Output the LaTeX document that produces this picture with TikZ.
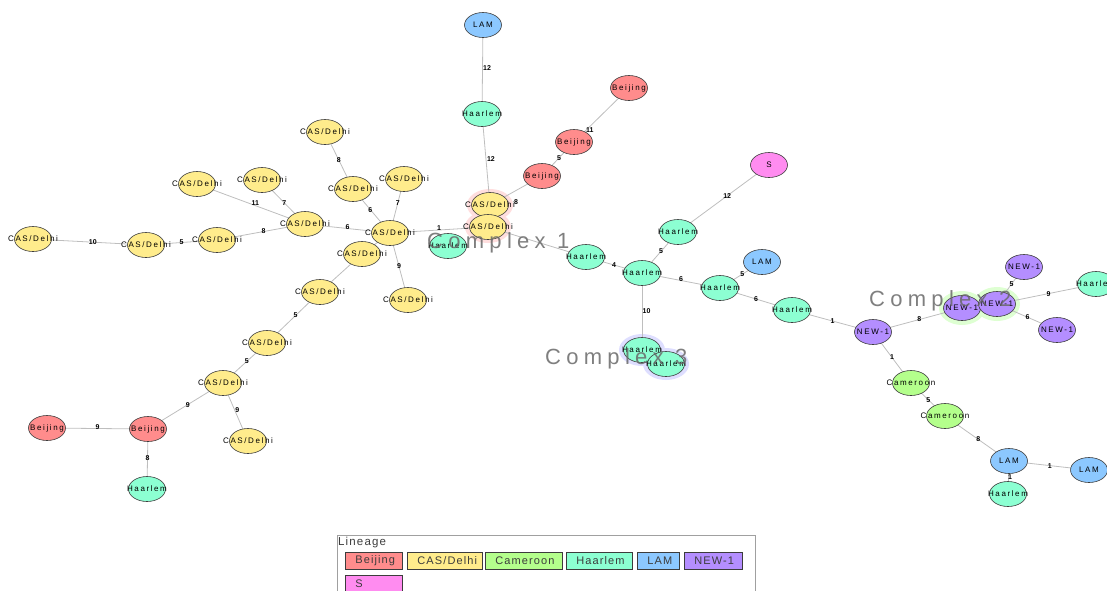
\documentclass[tikz,border=0pt]{standalone}
\usepackage{fontspec}
\setmainfont{Liberation Sans}
\newfontfamily\nfont[LetterSpace=20]{Liberation Sans}
\newfontfamily\cfont[LetterSpace=24]{Liberation Sans}
\newfontfamily\lfont[LetterSpace=10]{Liberation Sans}
\usetikzlibrary{shapes.geometric}
\pgfdeclarelayer{halo}
\pgfdeclarelayer{edges}
\pgfdeclarelayer{top}
\pgfsetlayers{halo,edges,main,top}
\definecolor{cBei}{RGB}{255,140,140}
\definecolor{cCas}{RGB}{255,236,140}
\definecolor{cCam}{RGB}{180,255,140}
\definecolor{cHaa}{RGB}{140,255,210}
\definecolor{cLam}{RGB}{140,200,255}
\definecolor{cNew}{RGB}{180,142,255}
\definecolor{cS}{RGB}{255,140,240}
\definecolor{nborder}{RGB}{60,60,60}
\definecolor{eline}{RGB}{190,190,190}
\definecolor{haloA}{RGB}{255,222,222}
\definecolor{haloB}{RGB}{222,255,210}
\definecolor{haloC}{RGB}{222,222,255}
\definecolor{cplxgray}{RGB}{105,105,105}
\definecolor{legframe}{RGB}{160,160,160}
\definecolor{legtext}{RGB}{60,60,60}
\newcommand{\ntxt}[1]{\makebox[0pt][c]{#1}}
\newcommand{\swtxt}[2]{\makebox[#1][l]{#2}}
\tikzset{
  nd/.style={ellipse, draw=nborder, line width=0.6pt, minimum width=37pt,
    minimum height=25pt, inner sep=0pt, font=\nfont\fontsize{8}{9}\selectfont},
  bei/.style={nd, fill=cBei},
  cas/.style={nd, fill=cCas},
  cam/.style={nd, fill=cCam},
  haa/.style={nd, fill=cHaa},
  lam/.style={nd, fill=cLam},
  new/.style={nd, fill=cNew},
  sty/.style={nd, fill=cS},
  edge/.style={draw=eline, line width=0.8pt},
  el/.style={font=\bfseries\fontsize{7}{7}\selectfont, inner sep=0pt, text=black},
  cplx/.style={anchor=base west, inner sep=0pt, text=cplxgray, text opacity=0.85,
    font=\cfont\fontsize{22}{22}\selectfont},
  swatch/.style={rectangle, draw=nborder, line width=0.9pt, anchor=west,
    inner xsep=10pt, inner ysep=0pt, minimum height=17pt,
    text=legtext, font=\lfont\fontsize{11}{12}\selectfont},
}
\begin{document}
\begin{tikzpicture}[x=1pt,y=-1pt]
\useasboundingbox (0,0) rectangle (1107,590);
% ---------- nodes ----------
\node[lam] (lamT) at (483,25) {\ntxt{LAM}};
\node[haa] (h1) at (482,114) {\ntxt{Haarlem}};
\node[bei] (b1) at (629,88) {\ntxt{Beijing}};
\node[bei] (b2) at (574,142) {\ntxt{Beijing}};
\node[bei] (b3) at (542,176) {\ntxt{Beijing}};
\node[cas] (c1) at (490,205) {\ntxt{CAS/Delhi}};
\node[cas] (c2) at (488,227) {\ntxt{CAS/Delhi}};
\node[haa] (h2) at (448,246) {\ntxt{Haarlem}};
\node[cas] (c3) at (390,233) {\ntxt{CAS/Delhi}};
\node[cas] (c4) at (404,179) {\ntxt{CAS/Delhi}};
\node[cas] (c5) at (353,189) {\ntxt{CAS/Delhi}};
\node[cas] (c6) at (325,132) {\ntxt{CAS/Delhi}};
\node[cas] (c7) at (305,224) {\ntxt{CAS/Delhi}};
\node[cas] (c8) at (262,180) {\ntxt{CAS/Delhi}};
\node[cas] (c9) at (197,184) {\ntxt{CAS/Delhi}};
\node[cas] (c10) at (217,240) {\ntxt{CAS/Delhi}};
\node[cas] (c11) at (146,245) {\ntxt{CAS/Delhi}};
\node[cas] (c12) at (33,239) {\ntxt{CAS/Delhi}};
\node[cas] (c13) at (362,254) {\ntxt{CAS/Delhi}};
\node[cas] (c14) at (408,300) {\ntxt{CAS/Delhi}};
\node[cas] (c15) at (320,292) {\ntxt{CAS/Delhi}};
\node[cas] (c16) at (267,343) {\ntxt{CAS/Delhi}};
\node[cas] (c17) at (223,383) {\ntxt{CAS/Delhi}};
\node[cas] (c18) at (248,441) {\ntxt{CAS/Delhi}};
\node[bei] (b4) at (148,429) {\ntxt{Beijing}};
\node[bei] (b5) at (47,428) {\ntxt{Beijing}};
\node[haa] (h3) at (147,489) {\ntxt{Haarlem}};
\node[haa] (h4) at (586,257) {\ntxt{Haarlem}};
\node[haa] (h5) at (642,273) {\ntxt{Haarlem}};
\node[haa] (h6) at (678,232) {\ntxt{Haarlem}};
\node[sty] (s) at (769,165) {\ntxt{S}};
\node[lam] (l2) at (762,262) {\ntxt{LAM}};
\node[haa] (h7) at (720,288) {\ntxt{Haarlem}};
\node[haa] (h8) at (792,310) {\ntxt{Haarlem}};
\node[haa] (h9) at (642,350) {\ntxt{Haarlem}};
\node[haa] (h10) at (666,364) {\ntxt{Haarlem}};
\node[new] (n1) at (873,332) {\ntxt{NEW-1}};
\node[new] (n2) at (962,308) {\ntxt{NEW-1}};
\node[new] (n3) at (997,304) {\ntxt{NEW-1}};
\node[new] (n4) at (1024,267) {\ntxt{NEW-1}};
\node[new] (n5) at (1057,330) {\ntxt{NEW-1}};
\node[haa] (h11) at (1096,284) {\ntxt{Haarlem}};
\node[cam] (cm1) at (911,383) {\ntxt{Cameroon}};
\node[cam] (cm2) at (945,416) {\ntxt{Cameroon}};
\node[lam] (l3) at (1009,461) {\ntxt{LAM}};
\node[lam] (l4) at (1089,470) {\ntxt{LAM}};
\node[haa] (h12) at (1008,494) {\ntxt{Haarlem}};
% ---------- complex halos ----------
\begin{pgfonlayer}{halo}
\fill[haloA] (c1.center) ellipse [x radius=23pt, y radius=16pt];
\fill[haloA] (c2.center) ellipse [x radius=23pt, y radius=16pt];
\fill[haloB] (n2.center) ellipse [x radius=23pt, y radius=17pt];
\fill[haloB] (n3.center) ellipse [x radius=23pt, y radius=17pt];
\fill[haloC] (h9.center) ellipse [x radius=23pt, y radius=16pt];
\fill[haloC] (h10.center) ellipse [x radius=23pt, y radius=16pt];
\end{pgfonlayer}
% ---------- edges ----------
\begin{pgfonlayer}{edges}
\draw[edge] (lamT.center) -- (h1.center) node[el,pos=.48,xshift=4.5pt]{12};
\draw[edge] (h1.center) -- (c1.center) node[el,pos=.49,xshift=5pt]{12};
\draw[edge] (b1.center) -- (b2.center) node[el,pos=.75,xshift=2pt,yshift=-2pt]{11};
\draw[edge] (b2.center) -- (b3.center) node[el,pos=.47]{5};
\draw[edge] (b3.center) -- (c1.center) node[el,pos=.59,xshift=4.7pt,yshift=-8.6pt]{8};
\draw[edge] (c3.center) -- (c2.center) node[el,pos=.5,yshift=1.5pt]{1};
\draw[edge] (c2.center) -- (h4.center);
\draw[edge] (h4.center) -- (h5.center) node[el,pos=.5]{4};
\draw[edge] (h5.center) -- (h6.center) node[el,pos=.53]{5};
\draw[edge] (h6.center) -- (s.center) node[el,pos=.54]{12};
\draw[edge] (h5.center) -- (h7.center) node[el,pos=.5,yshift=1.3pt]{6};
\draw[edge] (h7.center) -- (l2.center) node[el,pos=.53]{5};
\draw[edge] (h7.center) -- (h8.center) node[el,pos=.5]{6};
\draw[edge] (h8.center) -- (n1.center) node[el,pos=.5]{1};
\draw[edge] (h5.center) -- (h9.center) node[el,pos=.5,xshift=4.5pt]{10};
\draw[edge] (n1.center) -- (n2.center) node[el,pos=.52]{8};
\draw[edge] (n3.center) -- (n4.center) node[el,pos=.54]{5};
\draw[edge] (n3.center) -- (h11.center) node[el,pos=.52]{9};
\draw[edge] (n3.center) -- (n5.center) node[el,pos=.51]{6};
\draw[edge] (n1.center) -- (cm1.center) node[el,pos=.5]{1};
\draw[edge] (cm1.center) -- (cm2.center) node[el,pos=.51]{5};
\draw[edge] (cm2.center) -- (l3.center) node[el,pos=.52]{8};
\draw[edge] (l3.center) -- (l4.center) node[el,pos=.51]{1};
\draw[edge] (l3.center) -- (h12.center) node[el,pos=.48,xshift=1.5pt]{1};
\draw[edge] (c6.center) -- (c5.center) node[el,pos=.49]{8};
\draw[edge] (c5.center) -- (c3.center) node[el,pos=.47]{6};
\draw[edge] (c4.center) -- (c3.center) node[el,pos=.45]{7};
\draw[edge] (c7.center) -- (c3.center) node[el,pos=.5,yshift=1.8pt]{6};
\draw[edge] (c7.center) -- (c8.center) node[el,pos=.48]{7};
\draw[edge] (c7.center) -- (c9.center) node[el,pos=.46,yshift=3pt]{11};
\draw[edge] (c7.center) -- (c10.center) node[el,pos=.47]{8};
\draw[edge] (c10.center) -- (c11.center) node[el,pos=.5]{5};
\draw[edge] (c11.center) -- (c12.center) node[el,pos=.47]{10};
\draw[edge] (c3.center) -- (c14.center) node[el,pos=.5]{9};
\draw[edge] (c3.center) -- (c13.center);
\draw[edge] (c13.center) -- (c15.center);
\draw[edge] (c15.center) -- (c16.center) node[el,pos=.46]{5};
\draw[edge] (c16.center) -- (c17.center) node[el,pos=.46]{5};
\draw[edge] (c17.center) -- (b4.center) node[el,pos=.47]{9};
\draw[edge] (c17.center) -- (c18.center) node[el,pos=.47,xshift=2.5pt]{9};
\draw[edge] (b4.center) -- (b5.center) node[el,pos=.5,yshift=1pt]{9};
\draw[edge] (b4.center) -- (h3.center) node[el,pos=.49]{8};
\end{pgfonlayer}
% ---------- complex labels ----------
\begin{pgfonlayer}{top}
\node[cplx] (cx1) at (427,248) {Complex 1};
\node[cplx] (cx2) at (869,306) {Complex 2};
\node[cplx] (cx3) at (545,364) {Complex 3};
\end{pgfonlayer}
% ---------- legend ----------
\draw[legframe, line width=0.8pt] (337,535) rectangle (755,600);
\node[anchor=base west, inner sep=0pt, text=legtext, font=\lfont\fontsize{11.5}{12}\selectfont] (legt) at (338,545) {Lineage};
\node[swatch, fill=cBei] (sw1) at (345,560.5) {\swtxt{37pt}{Beijing}};
\node[swatch, fill=cCas] (sw2) at (407,560.5) {\swtxt{55pt}{CAS/Delhi}};
\node[swatch, fill=cCam] (sw3) at (485,560.5) {\swtxt{57pt}{Cameroon}};
\node[swatch, fill=cHaa] (sw4) at (566,560.5) {\swtxt{46pt}{Haarlem}};
\node[swatch, fill=cLam] (sw5) at (637,560.5) {\swtxt{22pt}{LAM}};
\node[swatch, fill=cNew] (sw6) at (684,560.5) {\swtxt{38pt}{NEW-1}};
\node[swatch, fill=cS] (sw7) at (345,583.5) {\swtxt{37pt}{S}};
\end{tikzpicture}
\end{document}
